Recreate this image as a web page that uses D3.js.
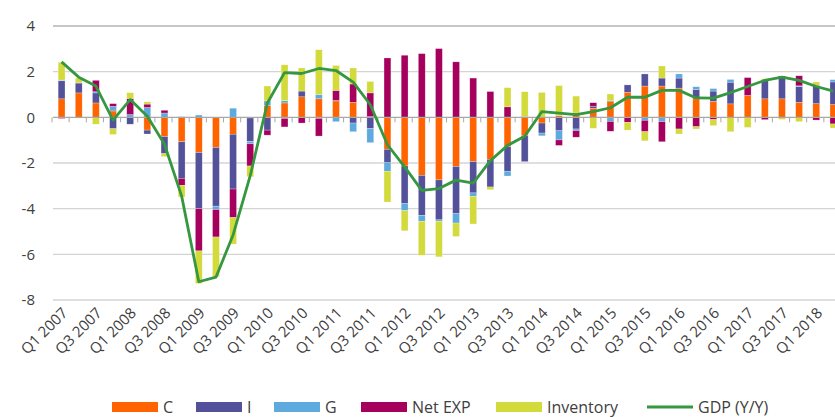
<!DOCTYPE html>
<html>
<head>
<meta charset="utf-8">
<script src="https://cdn.jsdelivr.net/npm/d3@7"></script>
<style>
  body { margin: 0; background: #fff; }
  text { font-family: "Open Sans", sans-serif; fill: #404040; }
</style>
</head>
<body>
<script>
// quarters Q1 2007 .. Q2 2018
const quarters = [];
for (let y = 2007; y <= 2018; y++) {
    for (let q = 1; q <= 4; q++) {
        if (y == 2018 && q > 2) break;
        quarters.push("Q" + q + " " + y);
    }
}

// contributions (pp)
const consumption = [0.81, 1.07, 0.63, 0.28, 0, -0.56, -0.84, -1.07, -1.54, -1.32, -0.74, -0.03,
    0.52, 0.63, 0.9, 0.81, 0.72, 0.66, 0.03, -1.4, -2.13, -2.54, -2.74, -2.15,
    -1.94, -1.84, -1.29, -0.81, -0.25, 0.07, 0.19, 0.4, 0.69, 1.1, 1.37, 1.37,
    1.28, 0.81, 0.7, 0.59, 0.96, 0.81, 0.81, 0.66, 0.6, 0.56];
const investment = [0.79, 0.43, 0.44, -0.5, -0.3, -0.17, -0.75, -1.6, -2.46, -2.57, -2.4, -1.03,
    -0.56, -0.05, 0.25, -0.05, 0.02, -0.25, -0.49, -0.59, -1.65, -1.75, -1.75, -2.07,
    -1.37, -1.21, -1.07, -1.13, -0.44, -0.59, -0.51, 0.09, 0.03, 0.32, 0.53, 0.35,
    0.44, 0.41, 0.45, 0.95, 0, 0.81, 0.94, 0.69, 0.8, 0.99];
const government = [0.03, -0.03, 0.05, 0.2, 0.12, 0.43, 0.19, 0.03, 0.1, -0.15, 0.4, -0.1,
    0.2, 0.1, 0, 0.19, -0.19, -0.38, -0.62, -0.37, -0.31, -0.26, -0.06, -0.41,
    -0.15, 0, -0.21, 0, -0.12, -0.4, -0.07, 0, -0.18, 0, -0.13, -0.19,
    0.18, 0.12, 0.11, 0.12, 0, 0, 0, 0.03, 0, 0.1];
const netExports = [-0.05, 0.02, 0.5, 0.12, 0.7, 0.15, 0.12, -0.31, -1.85, -1.2, -1.25, -0.97,
    -0.22, -0.37, -0.25, -0.77, 0.44, 0.8, 1.04, 2.6, 2.72, 2.79, 3.01, 2.43,
    1.72, 1.13, 0.46, 0.03, 0, -0.24, -0.29, 0.15, -0.43, -0.22, -0.5, -0.88,
    -0.51, -0.41, -0.1, 0, 0.78, -0.1, 0.06, 0.44, -0.12, -0.29];
const inventory = [0.78, 0.2, -0.3, -0.25, 0.26, 0.1, -0.13, -0.51, -1.43, -1.74, -1.16, -0.47,
    0.65, 1.57, 1.01, 1.96, 1.09, 0.7, 0.5, -1.35, -0.88, -1.49, -1.56, -0.59,
    -1.21, -0.12, 0.84, 1.09, 1.09, 1.32, 0.74, -0.48, 0.3, -0.34, -0.4, 0.53,
    -0.22, -0.1, -0.26, -0.63, -0.44, 0.07, -0.09, -0.19, 0.15, -0.18];
const gdp = [2.43, 1.76, 1.37, -0.12, 0.78, 0.05, -1.18, -3.45, -7.2, -7.0, -5.15, -2.55,
    0.63, 1.96, 1.92, 2.14, 2.05, 1.54, 0.55, -1.2, -2.17, -3.2, -3.12, -2.75,
    -2.88, -1.9, -1.23, -0.83, 0.25, 0.18, 0.12, 0.25, 0.42, 0.88, 0.88, 1.18,
    1.18, 0.85, 0.84, 1.08, 1.35, 1.62, 1.76, 1.62, 1.35, 1.15];

const seriesNames = ["C", "I", "G", "Net EXP", "Inventory"];
const yTicks = [4, 2, 0, -2, -4, -6, -8];

const colors = ["#ff6400", "#52519a", "#5ea9dd", "#a6005e", "#d3da3b"];
const lineColor = "#35973f";

const width = 835, height = 417;
const margin = {top: 26, right: -7, bottom: 120, left: 53};

const svg = d3.select("body").append("svg")
    .attr("width", width)
    .attr("height", height);

// table for d3.stack
const table = quarters.map((q, i) => ({
    q: q,
    "C": consumption[i],
    "I": investment[i],
    "G": government[i],
    "Net EXP": netExports[i],
    "Inventory": inventory[i]
}));

const x = d3.scaleBand()
    .domain(quarters)
    .range([margin.left, width - margin.right])
    .paddingInner(0.6)
    .paddingOuter(0.3);

const y = d3.scaleLinear()
    .domain([-8, 4])
    .range([height - margin.bottom + 3, margin.top]);

// gridlines
svg.append("g")
    .selectAll("line")
    .data(yTicks.filter(d => d != 0))
    .enter().append("line")
    .attr("x1", margin.left)
    .attr("x2", width)
    .attr("y1", d => y(d))
    .attr("y2", d => y(d))
    .attr("stroke", d => d == 4 ? "#b4b4b4" : "#d4d4d4")
    .attr("stroke-width", 1.3);

// y axis labels
svg.append("g")
    .selectAll("text")
    .data(yTicks)
    .enter().append("text")
    .attr("x", 35)
    .attr("y", d => y(d))
    .attr("dy", "0.36em")
    .attr("text-anchor", "end")
    .style("font-size", "15px")
    .text(d => d);

// stacked bars
const stack = d3.stack()
    .keys(seriesNames)
    .offset(d3.stackOffsetDiverging);
const layers = stack(table);

svg.append("g")
    .selectAll("g")
    .data(layers)
    .enter().append("g")
    .attr("fill", (d, i) => colors[i])
    .selectAll("rect")
    .data(d => d)
    .enter().append("rect")
    .attr("x", d => x(d.data.q))
    .attr("width", x.bandwidth())
    .attr("y", d => y(d[1]))
    .attr("height", d => Math.abs(y(d[0]) - y(d[1])))
    .attr("stroke", "#fff")
    .attr("stroke-opacity", 0.5)
    .attr("stroke-width", 0.5);

// zero axis with small tick marks between categories
const step = x.step();
const axisG = svg.append("g");
axisG.append("line")
    .attr("x1", margin.left)
    .attr("x2", width)
    .attr("y1", y(0))
    .attr("y2", y(0))
    .attr("stroke", "#a8a8a8")
    .attr("stroke-width", 1.3);
axisG.selectAll("line.tick")
    .data(quarters)
    .enter().append("line")
    .attr("class", "tick")
    .attr("x1", d => x(d) - step * 0.3 - 1)
    .attr("x2", d => x(d) - step * 0.3 - 1)
    .attr("y1", y(0))
    .attr("y2", y(0) + 5)
    .attr("stroke", "#a8a8a8")
    .attr("stroke-width", 1);

// GDP line
const line = d3.line()
    .x((d, i) => x(quarters[i]) + x.bandwidth() / 2)
    .y(d => y(d));
svg.append("path")
    .datum(gdp)
    .attr("d", line)
    .attr("fill", "none")
    .attr("stroke", lineColor)
    .attr("stroke-width", 2.8)
    .attr("stroke-linejoin", "round");

// x labels, every second quarter
svg.append("g")
    .selectAll("text")
    .data(quarters.filter((q, i) => i % 2 == 0))
    .enter().append("text")
    .attr("transform", d => "translate(" + (x(d) + x.bandwidth() / 2 + 7) + "," + (y(-8) + 14) + ") rotate(-45)")
    .attr("text-anchor", "end")
    .style("font-size", "15px")
    .text(d => d);

// legend
const legendItems = [
    {name: "C", x: 112, color: colors[0]},
    {name: "I", x: 196, color: colors[1]},
    {name: "G", x: 274, color: colors[2]},
    {name: "Net EXP", x: 361, color: colors[3]},
    {name: "Inventory", x: 496, color: colors[4]}
];
const legendY = 407;
const legend = svg.append("g");
legendItems.forEach(item => {
    legend.append("rect")
        .attr("x", item.x)
        .attr("y", legendY - 5)
        .attr("width", 46)
        .attr("height", 10)
        .attr("fill", item.color);
    legend.append("text")
        .attr("x", item.x + 51)
        .attr("y", legendY)
        .attr("dy", "0.36em")
        .style("font-size", "16px")
        .text(item.name);
});
legend.append("line")
    .attr("x1", 647)
    .attr("x2", 693)
    .attr("y1", legendY)
    .attr("y2", legendY)
    .attr("stroke", lineColor)
    .attr("stroke-width", 2.8);
legend.append("text")
    .attr("x", 698)
    .attr("y", legendY)
    .attr("dy", "0.36em")
    .style("font-size", "16px")
    .text("GDP (Y/Y)");
</script>
</body>
</html>
